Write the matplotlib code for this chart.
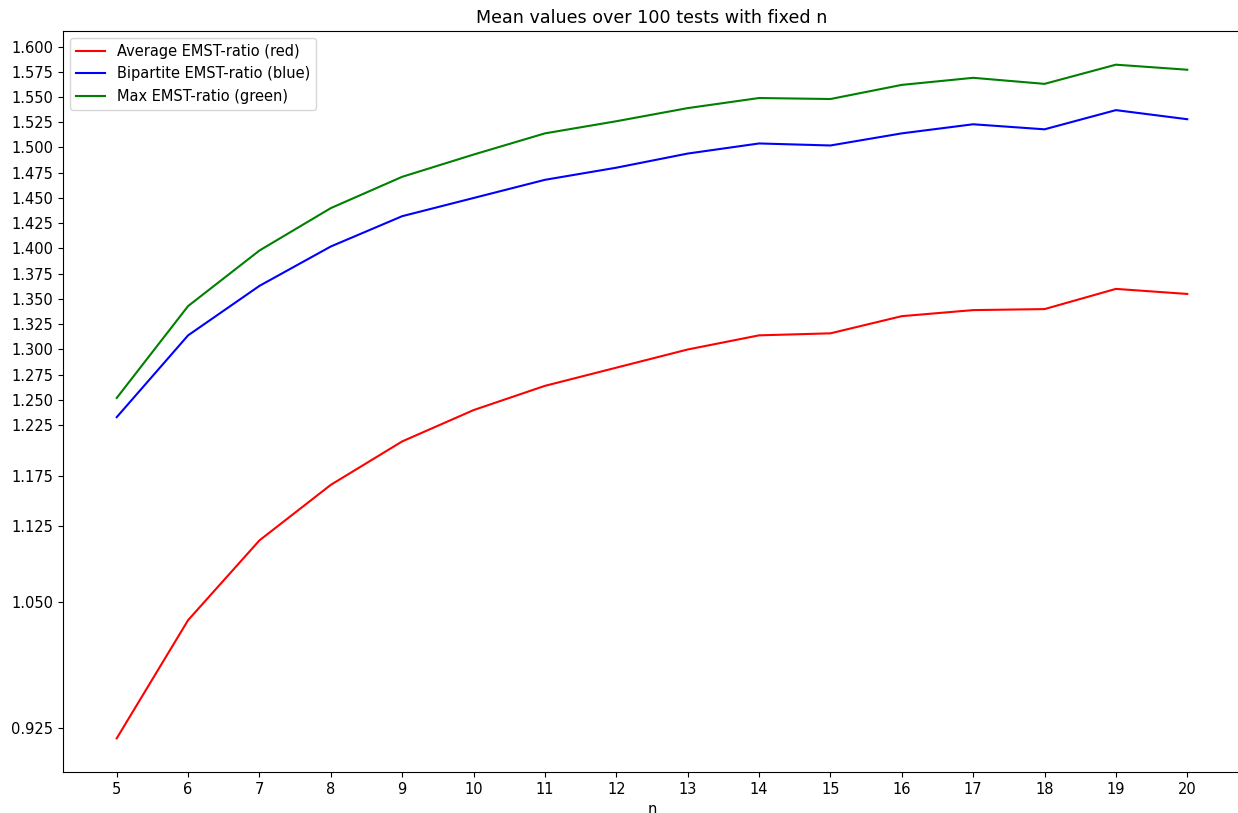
import matplotlib
matplotlib.use('Agg')
import matplotlib.pyplot as plt

# Data
n_values = list(range(5, 21))

average_ratio = [0.915, 1.032, 1.111, 1.166, 1.209, 1.240, 1.264, 1.282,
                 1.300, 1.314, 1.316, 1.333, 1.339, 1.340, 1.360, 1.355]
bipartite_ratio = [1.233, 1.314, 1.363, 1.402, 1.432, 1.450, 1.468, 1.480,
                   1.494, 1.504, 1.502, 1.514, 1.523, 1.518, 1.537, 1.528]
max_ratio = [1.252, 1.343, 1.398, 1.440, 1.471, 1.493, 1.514, 1.526,
             1.539, 1.549, 1.548, 1.562, 1.569, 1.563, 1.582, 1.577]

y_ticks = [0.925, 1.050, 1.125, 1.175, 1.225, 1.250, 1.275, 1.300, 1.325,
           1.350, 1.375, 1.400, 1.425, 1.450, 1.475, 1.500, 1.525, 1.550,
           1.575, 1.600]

# The reference looks rendered slightly larger than default text
plt.rcParams['font.size'] = 10.5

# Figure and axes (axes runs slightly past the right edge, like the reference)
fig = plt.figure(figsize=(12.38, 8.13), dpi=100)
ax = fig.add_axes([63.2 / 1238, 41 / 813, 1177.6 / 1238, 741 / 813])

ax.plot(n_values, average_ratio, color='red', label='Average EMST-ratio (red)')
ax.plot(n_values, bipartite_ratio, color='blue', label='Bipartite EMST-ratio (blue)')
ax.plot(n_values, max_ratio, color='green', label='Max EMST-ratio (green)')

ax.set_xticks(n_values)
ax.set_yticks(y_ticks)
ax.set_yticklabels([f'{t:.3f}' for t in y_ticks])

ax.set_title('Mean values over 100 tests with fixed n', fontsize=12.6)
ax.set_xlabel('n')
ax.legend(loc='upper left')

fig.savefig('out.png', dpi=100)
